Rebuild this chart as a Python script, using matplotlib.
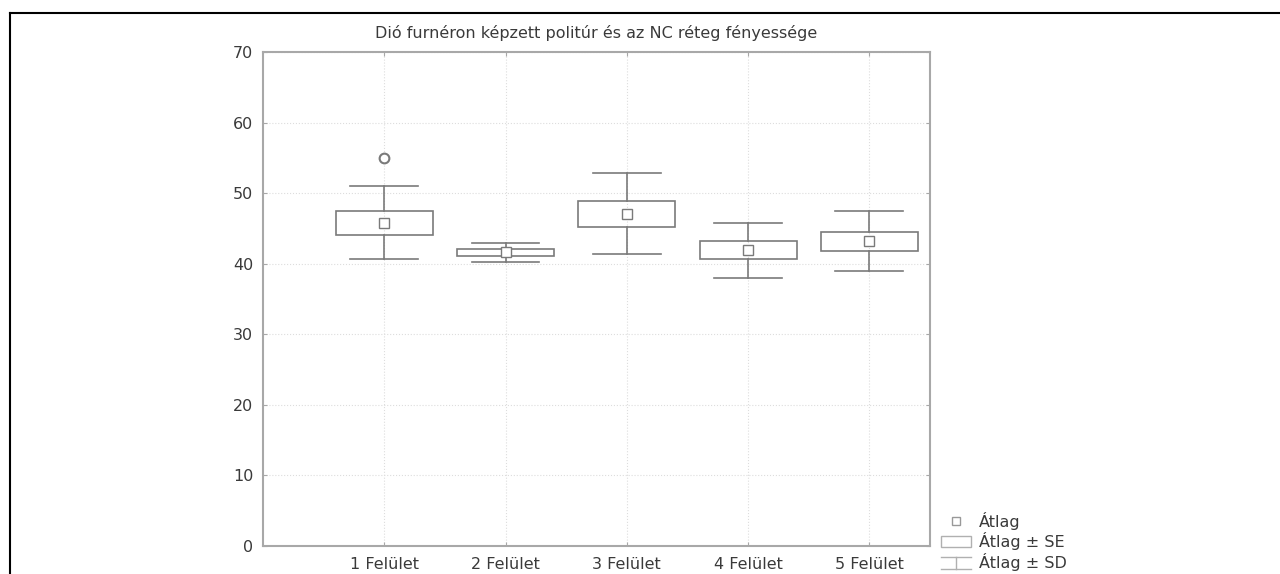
#imports
import numpy as np
import matplotlib.pyplot as plt
from matplotlib.lines import Line2D
from matplotlib.patches import Rectangle
from matplotlib.legend_handler import HandlerBase

plt.rcParams['font.family'] = ['DejaVu Sans']

#data
labels = ['1 Felület', '2 Felület', '3 Felület', '4 Felület', '5 Felület']
mean = [45.8, 41.6, 47.1, 41.9, 43.2]
se = [1.72, 0.52, 1.84, 1.25, 1.35]
sd = [5.2, 1.4, 5.7, 3.9, 4.2]
out_x = ['1 Felület']
out_y = [55.0]

title = 'Dió furnéron képzett politúr és az NC réteg fényessége'

#style
lc = '#7a7a7a'
spc = '#a8a8a8'
tc = '#3a3a3a'

class SDHandler(HandlerBase):
    def create_artists(self, legend, orig, xd, yd, w, h, fs, trans):
        cx = xd + w / 2
        a = Line2D([xd, xd + w], [yd - 1, yd - 1], color='#b0b0b0', lw=1, transform=trans)
        b = Line2D([xd, xd + w], [yd + h, yd + h], color='#b0b0b0', lw=1, transform=trans)
        c = Line2D([cx, cx], [yd - 1, yd + h], color='#b0b0b0', lw=1, transform=trans)
        return [a, b, c]

fig = plt.figure(figsize=(12.8, 5.74), dpi=100)
ax = fig.add_axes([0.2055, 0.0488, 0.521, 0.8606])

x = np.arange(1, len(labels) + 1)
m = np.array(mean); s = np.array(se); d = np.array(sd)
bw = 0.8
cw = 0.56
for xi, mi, si, di in zip(x, m, s, d):
    ax.add_patch(Rectangle((xi - bw / 2, mi - si), bw, 2 * si, fill=False, ec=lc, lw=1.2, zorder=3))
    ax.plot([xi, xi], [mi + si, mi + di], color=lc, lw=1.2, zorder=3)
    ax.plot([xi, xi], [mi - si, mi - di], color=lc, lw=1.2, zorder=3)
    ax.plot([xi - cw / 2, xi + cw / 2], [mi + di] * 2, color=lc, lw=1.2, zorder=3)
    ax.plot([xi - cw / 2, xi + cw / 2], [mi - di] * 2, color=lc, lw=1.2, zorder=3)
ax.plot(x, m, 's', ms=6.5, mfc='white', mec=lc, mew=1, zorder=4, ls='none')
ox = [labels.index(o) + 1 for o in out_x]
ax.plot(ox, out_y, 'o', ms=7, mfc='white', mec=lc, mew=1.5, zorder=4, ls='none')

ax.set_xlim(0, 5.5)
ax.set_ylim(0, 70)
ax.set_xticks(x)
ax.set_xticklabels(labels)
ax.set_yticks(np.arange(0, 71, 10))
ax.tick_params(direction='in', colors=spc, labelcolor=tc, labelsize=11.5, length=3,
               top=True, right=True, pad=7)
ax.tick_params(axis='x', pad=8)
for sp in ax.spines.values():
    sp.set_color(spc)
    sp.set_linewidth(1.5)
ax.grid(True, ls=':', color='#dddddd', lw=0.8)
ax.set_axisbelow(True)
ax.set_title(title, fontsize=11.5, color=tc, pad=10)

h1 = Line2D([], [], marker='s', ls='none', ms=5.5, mfc='white', mec='#999999', mew=1)
h2 = Rectangle((0, 0), 1, 1, fill=False, ec='#b0b0b0', lw=1)
h3 = Line2D([], [])
leg = ax.legend([h1, h2, h3], ['Átlag', 'Átlag ± SE', 'Átlag ± SD'],
                handler_map={h3: SDHandler()}, loc='lower left',
                bbox_to_anchor=(1.0, -0.073), frameon=False, fontsize=11.5,
                handlelength=1.9, handletextpad=0.45, labelspacing=0.15,
                borderaxespad=0.3)
for t in leg.get_texts():
    t.set_color(tc)

#outer frame
fig.add_artist(Line2D([10 / 1280, 10 / 1280], [0, 1 - 13 / 574], color='black', lw=1.5, transform=fig.transFigure))
fig.add_artist(Line2D([10 / 1280, 1], [1 - 13 / 574] * 2, color='black', lw=1.5, transform=fig.transFigure))

fig.savefig('out.png', dpi=100)
